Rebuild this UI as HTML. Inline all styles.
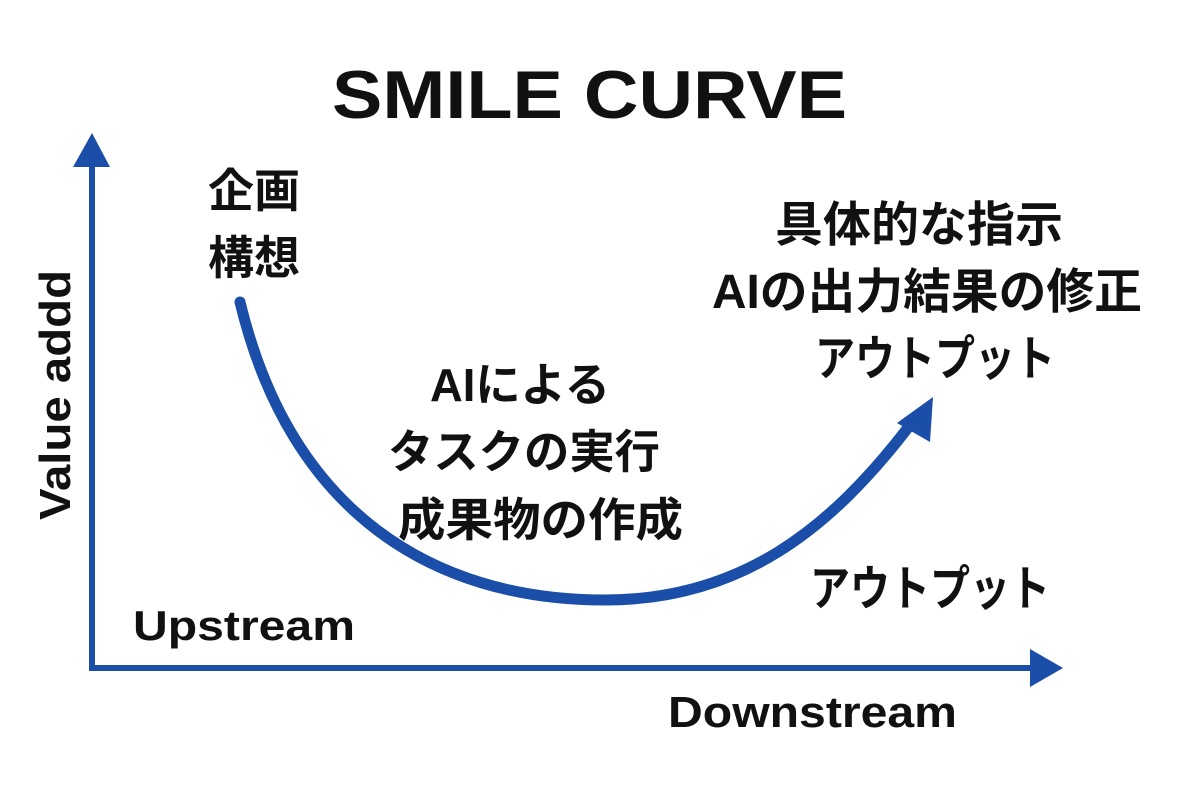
<!DOCTYPE html>
<html><head><meta charset="utf-8"><style>
html,body{margin:0;padding:0;background:#fff}
svg{display:block}
text{font-family:"Liberation Sans","Noto Sans CJK JP",sans-serif;font-weight:bold;fill:#111}
</style></head><body>
<svg width="1200" height="800" viewBox="0 0 1200 800">
<rect width="1200" height="800" fill="#fff"/>
<g fill="#1a4ea8" stroke="#1a4ea8">
<line x1="92" y1="160" x2="92" y2="670" stroke-width="6"/>
<polygon points="92,133 73,167 110,167" stroke="none"/>
<line x1="89" y1="668" x2="1035" y2="668" stroke-width="6"/>
<polygon points="1063,668 1030,649 1030,687" stroke="none"/>
<path d="M240,302 C290,510 430,600 605,600 C740,600 830,530 910,425" fill="none" stroke-width="11" stroke-linecap="round"/>
<polygon points="933,397 897,423 930,442" stroke="none"/>
</g>
<g lengthAdjust="spacingAndGlyphs">
<text x="332" y="118" font-size="68" textLength="515" lengthAdjust="spacingAndGlyphs">SMILE CURVE</text>
<text x="208" y="207" font-size="46" textLength="92" lengthAdjust="spacingAndGlyphs">企画</text>
<text x="208" y="274" font-size="46" textLength="92" lengthAdjust="spacingAndGlyphs">構想</text>
<text x="775" y="241" font-size="48" textLength="288" lengthAdjust="spacingAndGlyphs">具体的な指示</text>
<text x="712" y="308" font-size="48" textLength="430" lengthAdjust="spacingAndGlyphs">AIの出力結果の修正</text>
<text x="815" y="375" font-size="48" textLength="240" lengthAdjust="spacingAndGlyphs">アウトプット</text>
<text x="430" y="401" font-size="46" textLength="180" lengthAdjust="spacingAndGlyphs">AIによる</text>
<text x="388" y="468" font-size="46" textLength="272" lengthAdjust="spacingAndGlyphs">タスクの実行</text>
<text x="398" y="536" font-size="46" textLength="285" lengthAdjust="spacingAndGlyphs">成果物の作成</text>
<text x="810" y="605" font-size="48" textLength="240" lengthAdjust="spacingAndGlyphs">アウトプット</text>
<text x="133" y="640" font-size="42" textLength="222" lengthAdjust="spacingAndGlyphs" style="font-weight:600">Upstream</text>
<text x="668" y="727" font-size="44" textLength="289" lengthAdjust="spacingAndGlyphs">Downstream</text>
<text transform="translate(70,395) rotate(-90)" font-size="44" text-anchor="middle" textLength="250" lengthAdjust="spacingAndGlyphs">Value addd</text>
</g>
</svg>
</body></html>
